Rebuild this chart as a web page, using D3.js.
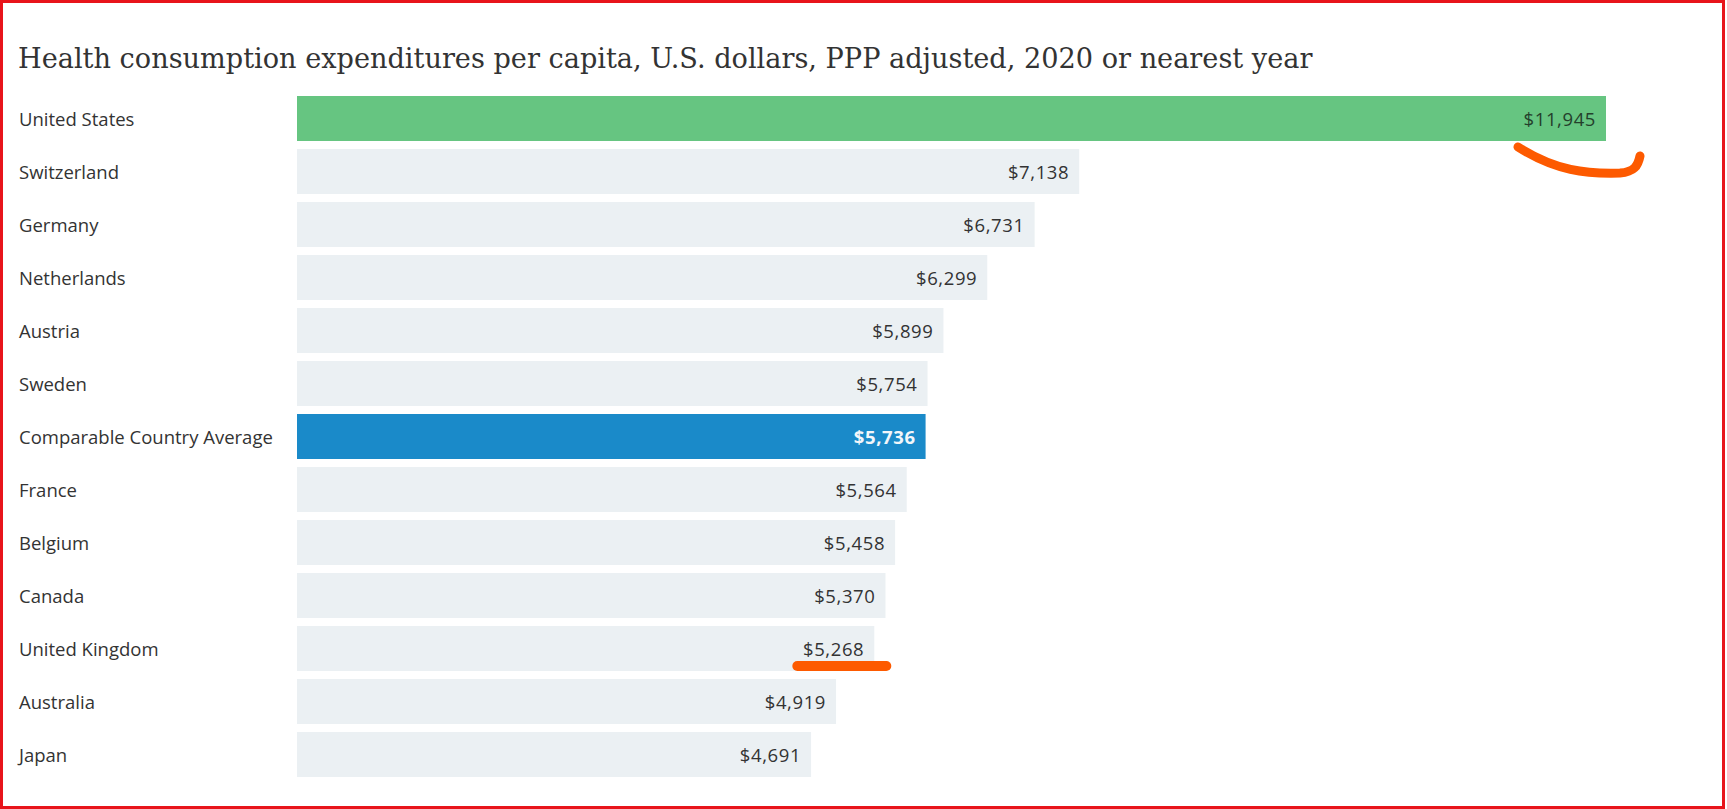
<!DOCTYPE html>
<html>
<head>
<meta charset="utf-8">
<script src="https://cdn.jsdelivr.net/npm/d3@7"></script>
<style>
  body { margin: 0; background: #fff; }
  .label { font-family: "Open Sans", "Noto Sans", sans-serif; font-size: 18.5px; fill: #333; }
  .value { font-family: "Open Sans", "Noto Sans", sans-serif; font-size: 18.5px; fill: #333; letter-spacing: 0.6px; }
  .title { font-family: "DejaVu Serif", Georgia, serif; font-size: 27px; fill: #333; }
</style>
</head>
<body>
<script>

const countries = [
  "United States", "Switzerland", "Germany", "Netherlands", "Austria", "Sweden",
  "Comparable Country Average", "France", "Belgium", "Canada", "United Kingdom",
  "Australia", "Japan"
]
const spending = [11945, 7138, 6731, 6299, 5899, 5754, 5736, 5564, 5458, 5370, 5268, 4919, 4691]
const title = "Health consumption expenditures per capita, U.S. dollars, PPP adjusted, 2020 or nearest year"

const w = 1727;
const h = 809;
const barLeft = 297;
const barTop = 96;
const pitch = 53;
const gap = 8;

const dataset = countries.map((c, i) => [c, spending[i]])

const xScale = d3.scaleLinear()
                 .domain([0, d3.max(spending)])
                 .range([barLeft, 1606]);
const yScale = d3.scaleBand()
                 .domain(countries)
                 .range([barTop, barTop + pitch * countries.length - gap])
                 .paddingInner(gap / pitch)
                 .paddingOuter(0);

const fill = (d) => d[0] === "United States" ? "#66c581"
                  : d[0] === "Comparable Country Average" ? "#1a8ac9" : "#ebf0f3";

const svg = d3.select("body")
  .append("svg")
  .attr("width", w)
  .attr("height", h);

svg.append("rect")
   .attr("x", 1.5).attr("y", 1.5)
   .attr("width", w - 5).attr("height", h - 3)
   .attr("fill", "none")
   .attr("stroke", "#e8141b")
   .attr("stroke-width", 3);

const t = svg.append("text")
   .attr("class", "title")
   .attr("x", 18)
   .attr("y", 68)
   .text(title);
// fit the title to the width it has in the picture
const tl = t.node().getComputedTextLength();
t.style("font-size", (27 * 1295 / tl) + "px");

svg.selectAll(".bar")
  .data(dataset)
  .enter()
  .append("rect")
  .attr("class", "bar")
  .attr("x", xScale(0))
  .attr("y", (d) => yScale(d[0]))
  .attr("width", (d) => xScale(d[1]) - xScale(0))
  .attr("height", yScale.bandwidth())
  .attr("fill", fill);

svg.selectAll(".label")
  .data(dataset)
  .enter()
  .append("text")
  .attr("class", "label")
  .attr("x", 19)
  .attr("y", (d) => yScale(d[0]) + yScale.bandwidth() / 2 + 7)
  .text((d) => d[0]);

svg.selectAll(".value")
  .data(dataset)
  .enter()
  .append("text")
  .attr("class", "value")
  .attr("text-anchor", "end")
  .attr("x", (d) => xScale(d[1]) - 10)
  .attr("y", (d) => yScale(d[0]) + yScale.bandwidth() / 2 + 7)
  .style("fill", (d) => d[0] === "Comparable Country Average" ? "#f2f6fa"
                      : d[0] === "United States" ? "#24402c" : "#333")
  .style("font-weight", (d) => d[0] === "Comparable Country Average" ? 700 : 400)
  .text((d) => d3.format("$,")(d[1]));

// hand drawn orange marks
const us = xScale(spending[0]);
const usBottom = yScale(countries[0]) + yScale.bandwidth();
svg.append("path")
   .attr("d", `M${us - 88},${usBottom + 6} C${us - 50},${usBottom + 30} ${us - 20},${usBottom + 33} ${us + 14},${usBottom + 32} C${us + 28},${usBottom + 31} ${us + 32},${usBottom + 25} ${us + 34},${usBottom + 15}`)
   .attr("fill", "none")
   .attr("stroke", "#fd5a00")
   .attr("stroke-width", 9)
   .attr("stroke-linecap", "round");

const uk = xScale(spending[10]);
const ukBottom = yScale(countries[10]) + yScale.bandwidth();
svg.append("line")
   .attr("x1", uk - 77).attr("x2", uk + 12)
   .attr("y1", ukBottom - 5).attr("y2", ukBottom - 5)
   .attr("stroke", "#fd5a00")
   .attr("stroke-width", 10)
   .attr("stroke-linecap", "round");

</script>
</body>
</html>
